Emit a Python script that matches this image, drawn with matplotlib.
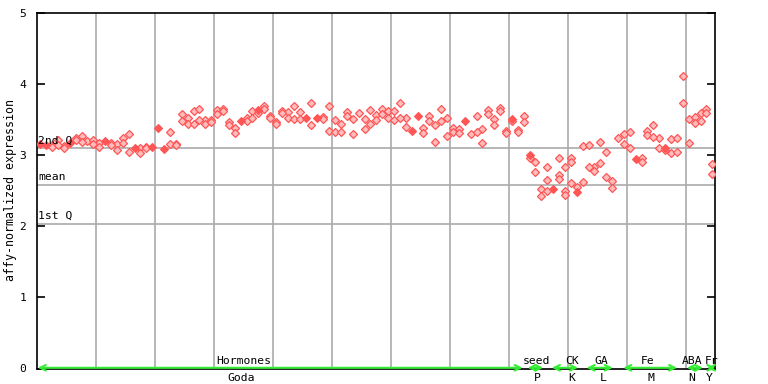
import numpy as np
import matplotlib
matplotlib.use("Agg")
import matplotlib.pyplot as plt

nan = np.nan

# --- values (one column per sample) ---
rep1 = [3.16, 3.15, 3.15, 3.22, 3.13, 3.18, 3.24, 3.27, 3.20, 3.21,
        3.17, 3.20, 3.17, 3.16, 3.25, 3.30, 3.10, 3.11, 3.12, 3.12,
        3.39, 3.09, 3.33, 3.16, 3.58, 3.52, 3.62, 3.65, 3.50, 3.50,
        3.64, 3.65, 3.47, 3.38, 3.49, 3.52, 3.63, 3.64, 3.69, 3.56,
        3.47, 3.63, 3.61, 3.70, 3.61, 3.52, 3.74, 3.53, 3.54, 3.70,
        3.50, 3.44, 3.61, 3.51, 3.59, 3.51, 3.64, 3.57, 3.65, 3.63,
        3.63, 3.74, 3.52, 3.35, 3.55, 3.38, 3.55, 3.43, 3.65, 3.52,
        3.38, 3.37, 3.48, 3.30, 3.56, 3.37, 3.64, 3.51, 3.66, 3.35,
        3.51, 3.36, 3.56, 3.01, 2.91, 2.53, 2.83, 2.53, 2.96, 2.84,
        2.97, 2.48, 3.13, 3.14, 2.84, 3.19, 3.05, 2.64, 3.24, 3.30,
        3.33, 2.95, 2.96, 3.34, 3.43, 3.24, 3.11, 3.23, 3.24, 4.12,
        3.51, 3.54, 3.59, 3.65, 2.88]
rep2 = [nan, nan, 3.12, 3.15, 3.10, nan, 3.21, 3.19, nan, 3.16,
        3.12, nan, 3.15, 3.08, 3.17, 3.05, nan, 3.04, 3.10, nan,
        nan, nan, 3.16, 3.14, 3.48, 3.44, 3.44, 3.50, 3.44, 3.47,
        3.58, 3.62, 3.43, 3.32, nan, 3.49, 3.52, 3.60, 3.65, 3.53,
        3.44, 3.59, 3.52, 3.51, 3.51, nan, 3.43, nan, 3.51, 3.35,
        3.33, 3.33, 3.55, 3.30, nan, 3.37, 3.44, 3.50, 3.58, 3.52,
        3.50, 3.52, 3.40, nan, nan, 3.31, 3.48, 3.19, 3.49, 3.27,
        3.33, 3.31, nan, nan, 3.33, 3.17, 3.58, 3.43, 3.63, 3.31,
        3.49, 3.33, 3.47, 2.97, 2.76, 2.43, 2.65, nan, 2.73, 2.50,
        2.90, 2.56, 2.62, 2.83, 2.78, 2.89, 2.69, 2.54, nan, 3.16,
        3.10, nan, 2.90, 3.28, 3.26, 3.11, 3.08, 3.03, 3.05, 3.74,
        3.17, 3.45, 3.48, 3.59, 2.74]
rep3 = {86: 2.50, 88: 2.67, 89: 2.44, 90: 2.61}
solid_idx = [0, 1, 5, 11, 16, 19, 20, 21, 34, 37, 45, 47, 63, 64, 72, 80,
             83, 87, 91, 101, 106]

q_lines = [3.10, 2.58, 2.035]
q_labels = ["2nd Q", "mean", "1st Q"]

groups = ["Hormones", "seed", "CK", "GA", "Fe", "ABA", "Fr"]
labs = ["Goda", "P", "K", "L", "M", "N", "Y"]
group_x = [35.0, 84.7, 90.7, 95.6, 103.6, 111.0, 114.3]
lab_x = [34.5, 84.8, 90.7, 96.0, 104.0, 111.0, 113.9]
arrow_span = [(0.1, 82.3), (83.2, 85.8), (87.3, 91.7), (93.2, 97.6),
              (99.4, 108.5), (110.2, 112.9), (113.6, 115.0)]

n = len(rep1)
red = "#ff5555"
mono = "DejaVu Sans Mono"

fig = plt.figure(figsize=(7.68, 3.84), dpi=100)
ax = fig.add_axes([37.3 / 768, 1 - 368.5 / 384, 678 / 768, 355.2 / 384])
ax.set_xlim(0, n)
ax.set_ylim(0, 5)

# grid
for gx in range(10, n, 10):
    ax.axvline(gx, color="#aaaaaa", lw=1.2, zorder=1)
for qy, ql in zip(q_lines, q_labels):
    ax.axhline(qy, color="#aaaaaa", lw=1.2, zorder=1)
    ax.text(0.1, qy + 0.04, ql, fontsize=8.2, family=mono, va="bottom",
            ha="left", zorder=5)

xs = np.arange(n) + 0.5
r1 = np.array(rep1, dtype=float)
r2 = np.array(rep2, dtype=float)
hollow = np.ones(n, dtype=bool)
hollow[solid_idx] = False

kw = dict(ls="none", marker="D", zorder=3)
hk = dict(ms=3.7, mfc="#ffbcbc", mec=red, mew=0.9)
ax.plot(xs[hollow], r1[hollow], **hk, **kw)
ax.plot(xs, r2, **hk, **kw)
r3x = [k + 0.5 for k in rep3]
ax.plot(r3x, list(rep3.values()), **hk, **kw)
ax.plot(xs[~hollow], r1[~hollow], ms=4.3, mfc=red, mec=red, mew=0.8, **kw)

# axes styling
for s in ax.spines.values():
    s.set_color("black")
    s.set_linewidth(1.2)
ax.set_xticks([])
ax.set_yticks(range(6))
ax.set_yticklabels([str(v) for v in range(6)], family=mono, fontsize=8.2)
ax.tick_params(axis="y", direction="in", length=6, width=1.2, pad=8,
               right=True)
fig.text(11 / 768, 1 - 190 / 384, "affy-normalized expression", family=mono,
         fontsize=8.4, rotation=90, ha="center", va="center")

# group arrows and labels
for (x0, x1) in arrow_span:
    ax.annotate("", xy=(x1, 0.01), xytext=(x0, 0.01),
                arrowprops=dict(arrowstyle="<->,head_length=0.5,head_width=0.25",
                                color="#33ee33", lw=1.5, mutation_scale=8,
                                shrinkA=0, shrinkB=0),
                annotation_clip=False, zorder=6)
for gx, g in zip(group_x, groups):
    ax.text(gx, 0.03, g, family=mono, fontsize=8.2, ha="center",
            va="bottom", zorder=6)
for lx, l in zip(lab_x, labs):
    ax.text(lx, -0.06, l, family=mono, fontsize=8.2, ha="center", va="top",
            clip_on=False)

fig.savefig("out.png", dpi=100)
